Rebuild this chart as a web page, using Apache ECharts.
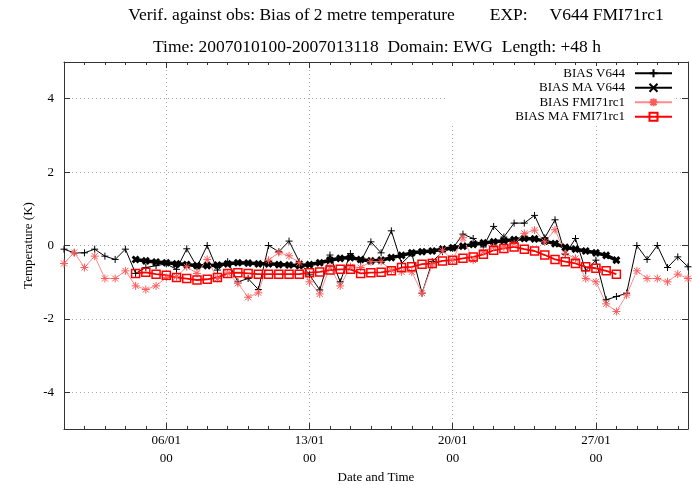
<!DOCTYPE html>
<html>
<head>
<meta charset="utf-8">
<script src="https://cdn.jsdelivr.net/npm/echarts@6/dist/echarts.min.js"></script>
<style>
  html, body { margin: 0; padding: 0; background: #fff; }
  #chart { width: 692px; height: 485px; }
</style>
</head>
<body>
<div id="chart"></div>
<script>
// Verification times: hours after 2007-01-01 00 UTC, one value every 12 h
const hours = Array.from({ length: 62 }, (_, i) => i * 12);

// Raw bias of 2 m temperature (K)
const biasV644 = [
  -0.10, -0.20, -0.20, -0.10, -0.29, -0.38, -0.10, -0.76, -0.60, -0.55,
  -0.50, -0.65, -0.09, -0.58,  0.00, -0.67, -0.44, -0.99, -0.90, -1.20,
   0.00, -0.17,  0.12, -0.44, -0.80, -1.21, -0.26, -0.99, -0.22, -0.44,
   0.10, -0.20,  0.40, -0.49, -0.22, -1.30, -0.44, -0.17, -0.08,  0.31,
   0.19, -0.04,  0.52,  0.23,  0.61,  0.61,  0.82,  0.21,  0.70, -0.24,
   0.19, -0.69, -0.40, -1.48, -1.39, -1.30,  0.00, -0.38,  0.00, -0.60,
  -0.31, -0.58
];
const biasFMI71rc1 = [
  -0.49, -0.19, -0.60, -0.29, -0.90, -0.90, -0.69, -1.10, -1.20, -1.10,
  -0.87, -0.85, -0.58, -0.76, -0.38, -0.90, -0.75, -1.03, -1.41, -1.29,
  -0.40, -0.19, -0.28, -0.47, -0.99, -1.32, -0.58, -1.10, -0.58, -0.60,
  -0.44, -0.44, -0.67, -0.72, -0.72, -1.30, -0.53, -0.13, -0.40,  0.21,
  -0.40, -0.17, -0.04, -0.04,  0.05,  0.33,  0.42,  0.10,  0.43, -0.22,
  -0.35, -0.90, -0.99, -1.59, -1.80, -1.35, -0.69, -0.90, -0.90, -0.99,
  -0.78, -0.90
];

// Moving averages, defined from sample index MA_FIRST onwards
const MA_FIRST = 7;
const biasMaV644 = [
  -0.38, -0.42, -0.45, -0.47, -0.50, -0.52, -0.55, -0.55, -0.53, -0.50,
  -0.47, -0.48, -0.50, -0.50, -0.52, -0.53, -0.55, -0.52, -0.47, -0.40,
  -0.35, -0.33, -0.38, -0.42, -0.40, -0.33, -0.27, -0.20, -0.17, -0.15,
  -0.10, -0.06, -0.02,  0.03,  0.07,  0.10,  0.13,  0.16,  0.19,  0.18,
   0.12,  0.05, -0.05, -0.10, -0.15, -0.20, -0.27, -0.40
];
const biasMaFMI71rc1 = [
  -0.76, -0.73, -0.78, -0.81, -0.87, -0.90, -0.94, -0.92, -0.87, -0.76,
  -0.74, -0.76, -0.78, -0.78, -0.78, -0.78, -0.78, -0.74, -0.72, -0.67,
  -0.65, -0.65, -0.76, -0.74, -0.73, -0.69, -0.60, -0.58, -0.51, -0.49,
  -0.42, -0.40, -0.35, -0.31, -0.24, -0.13, -0.08, -0.04, -0.10, -0.15,
  -0.26, -0.38, -0.44, -0.49, -0.58, -0.62, -0.69, -0.78
];

// Axis ticks (days after 01/01 00)
const majorDays = [5, 12, 19, 26];
const yTicks = [-4, -2, 0, 2, 4];

const titleLine1 = 'Verif. against obs: Bias of 2 metre temperature        EXP:     V644 FMI71rc1';
const titleLine2 = 'Time: 2007010100-2007013118  Domain: EWG  Length: +48 h';

const FONT = '"Liberation Serif", "DejaVu Serif", serif';
const dayOf = h => h / 24;
const pairs = (vals, first) => vals.map((v, k) => [dayOf(hours[k + first]), v]);

function dateLabel(d) {
  const t = new Date(Date.UTC(2007, 0, 1) + d * 86400000);
  const dd = String(t.getUTCDate()).padStart(2, '0');
  const mm = String(t.getUTCMonth() + 1).padStart(2, '0');
  const hh = String(t.getUTCHours()).padStart(2, '0');
  return dd + '/' + mm + '\n' + hh;
}

const X_MAX = dayOf(hours[hours.length - 1]);
const axisColor = '#333';
const gridLine = { show: true, lineStyle: { color: '#aaa', type: [1, 3], width: 1 } };

const plus = 'path://M0,4H8M4,0V8';
const cross = 'path://M0,0L8,8M8,0L0,8';
const star = 'path://M0,4H8M4,0V8M1,1L7,7M7,1L1,7';
const box = 'path://M0,0H8V8H0Z';

const chart = echarts.init(document.getElementById('chart'), null, { renderer: 'canvas' });

const xBase = {
  type: 'value', min: 0, max: X_MAX, gridIndex: 0,
  axisLine: { show: false, onZero: false },
  axisLabel: { show: false },
  splitLine: { show: false }
};

chart.setOption({
  animation: false,
  backgroundColor: '#fff',
  textStyle: { fontFamily: FONT },
  graphic: [
    { type: 'text', x: 396, y: 15, style: { text: titleLine1, font: '17.5px ' + FONT, fill: '#000', textAlign: 'center', textVerticalAlign: 'middle' } },
    { type: 'text', x: 377, y: 47, style: { text: titleLine2, font: '17.5px ' + FONT, fill: '#000', textAlign: 'center', textVerticalAlign: 'middle' } }
  ],
  grid: { left: 64, right: 4, top: 62, bottom: 56, containLabel: false, outerBoundsMode: 'none' },
  xAxis: [
    Object.assign({}, xBase, {
      position: 'bottom',
      name: 'Date and Time', nameLocation: 'middle', nameGap: 42, nameMoveOverlap: false,
      nameTextStyle: { fontFamily: FONT, fontSize: 13, color: '#000' },
      axisLine: { show: true, onZero: false, lineStyle: { color: axisColor, width: 1 } },
      axisTick: { show: true, inside: true, length: 6, customValues: majorDays, lineStyle: { color: axisColor } },
      axisLabel: { show: true, customValues: majorDays, formatter: v => dateLabel(v), margin: 3,
        fontFamily: FONT, fontSize: 13, color: '#000', lineHeight: 18 },
      splitLine: gridLine
    }),
    Object.assign({}, xBase, {
      position: 'bottom', interval: 1,
      axisTick: { show: true, inside: true, length: 3, lineStyle: { color: axisColor } }
    }),
    Object.assign({}, xBase, {
      position: 'top',
      axisLine: { show: true, onZero: false, lineStyle: { color: axisColor, width: 1 } },
      axisTick: { show: true, inside: true, length: 6, customValues: majorDays, lineStyle: { color: axisColor } }
    }),
    Object.assign({}, xBase, {
      position: 'top', interval: 1,
      axisTick: { show: true, inside: true, length: 3, lineStyle: { color: axisColor } }
    })
  ],
  yAxis: [
    {
      type: 'value', min: -5, max: 5, position: 'left',
      name: 'Temperature (K)', nameLocation: 'middle', nameGap: 29, nameRotate: 90, nameMoveOverlap: false,
      nameTextStyle: { fontFamily: FONT, fontSize: 13, color: '#000' },
      axisLine: { show: true, onZero: false, lineStyle: { color: axisColor, width: 1 } },
      axisTick: { show: true, inside: true, length: 6, customValues: yTicks, lineStyle: { color: axisColor } },
      axisLabel: { show: true, customValues: yTicks, margin: 10, fontFamily: FONT, fontSize: 13, color: '#000' },
      splitLine: gridLine
    },
    {
      type: 'value', min: -5, max: 5, position: 'right',
      axisLine: { show: true, onZero: false, lineStyle: { color: axisColor, width: 1 } },
      axisTick: { show: true, inside: true, length: 6, customValues: yTicks, lineStyle: { color: axisColor } },
      axisLabel: { show: false },
      splitLine: { show: false }
    }
  ],
  legend: {
    orient: 'vertical', right: 19, top: 66, align: 'right',
    itemWidth: 37, itemHeight: 10, itemGap: 0,
    backgroundColor: '#fff', padding: [0, 0, 2, 60],
    textStyle: { fontFamily: FONT, fontSize: 13, color: '#000', width: 118, align: 'right',
      lineHeight: 14.5, padding: [0, 5, 0, 0] },
    data: ['BIAS V644', 'BIAS MA V644', 'BIAS FMI71rc1', 'BIAS MA FMI71rc1']
  },
  series: [
    {
      name: 'BIAS V644', type: 'line', data: pairs(biasV644, 0),
      symbol: plus, symbolSize: 7, showAllSymbol: true,
      lineStyle: { color: '#000', width: 1 },
      itemStyle: { color: '#000', borderColor: '#000', borderWidth: 1 }
    },
    {
      name: 'BIAS MA V644', type: 'line', data: pairs(biasMaV644, MA_FIRST),
      symbol: cross, symbolSize: 6, showAllSymbol: true,
      lineStyle: { color: '#000', width: 3.5 },
      itemStyle: { color: '#000', borderColor: '#000', borderWidth: 3 }
    },
    {
      name: 'BIAS FMI71rc1', type: 'line', data: pairs(biasFMI71rc1, 0),
      symbol: star, symbolSize: 8, showAllSymbol: true,
      lineStyle: { color: '#ff8c8c', width: 1 },
      itemStyle: { color: '#ff5a5a', borderColor: '#ff5a5a', borderWidth: 1 }
    },
    {
      name: 'BIAS MA FMI71rc1', type: 'line', data: pairs(biasMaFMI71rc1, MA_FIRST),
      symbol: box, symbolSize: 8, showAllSymbol: true,
      lineStyle: { color: '#ff0000', width: 1.8 },
      itemStyle: { color: 'rgba(0,0,0,0)', borderColor: '#ff0000', borderWidth: 1.5 }
    }
  ]
});
</script>
</body>
</html>
